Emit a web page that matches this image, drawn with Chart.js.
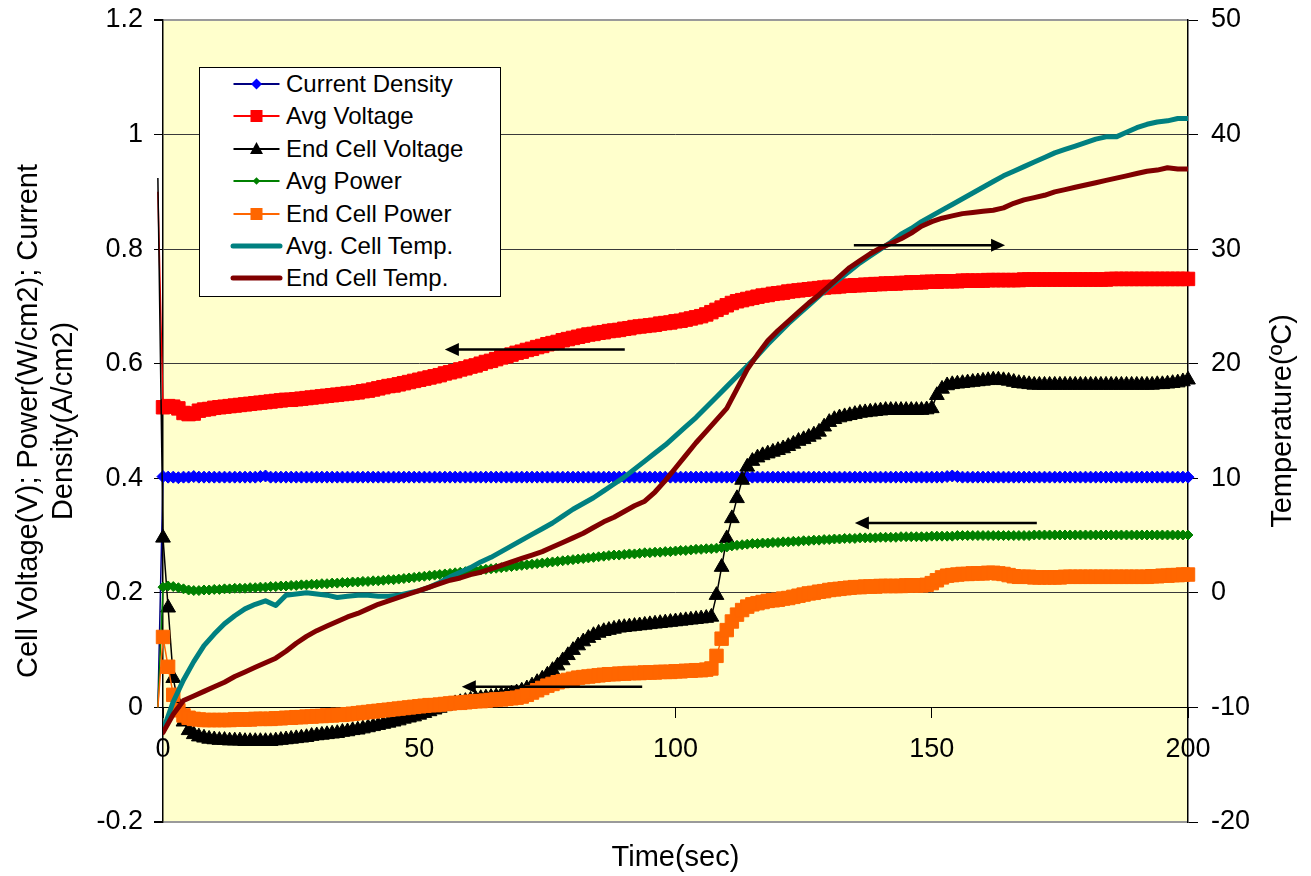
<!DOCTYPE html>
<html><head><meta charset="utf-8">
<script src="https://cdn.jsdelivr.net/npm/chart.js@4.4.1/dist/chart.umd.min.js"></script>
<style>
html,body{margin:0;padding:0;background:#fff;}
#wrap{position:relative;width:1311px;height:876px;}
#legend{position:absolute;left:199px;top:67px;width:302px;height:230px;box-sizing:border-box;background:#fff;border:1.5px solid #000;font-family:"Liberation Sans",Arial,sans-serif;font-size:24px;color:#000;}
.row{position:absolute;left:0;height:32px;width:100%;}
.row svg{position:absolute;left:30px;top:0;}
.row span{position:absolute;left:86px;top:0;line-height:32px;white-space:nowrap;}
</style></head>
<body><div id="wrap"><canvas id="c" width="1311" height="876"></canvas><div id="legend"></div></div>
<script>
// ---- categories / x values ----
const timeSec = [-1,
0,1,2,3,4,5,6,7,8,9,10,11,12,13,14,15,16,17,18,19,20,21,22,23,24,25,26,27,28,29,
30,31,32,33,34,35,36,37,38,39,40,41,42,43,44,45,46,47,48,49,50,51,52,53,54,55,56,57,58,59,
60,61,62,63,64,65,66,67,68,69,70,71,72,73,74,75,76,77,78,79,80,81,82,83,84,85,86,87,88,89,
90,91,92,93,94,95,96,97,98,99,100,101,102,103,104,105,106,107,108,109,110,111,112,113,114,115,116,117,118,119,
120,121,122,123,124,125,126,127,128,129,130,131,132,133,134,135,136,137,138,139,140,141,142,143,144,145,146,147,148,149,
150,151,152,153,154,155,156,157,158,159,160,161,162,163,164,165,166,167,168,169,170,171,172,173,174,175,176,177,178,179,
180,181,182,183,184,185,186,187,188,189,190,191,192,193,194,195,196,197,198,199,200];

const tempTimeSec = [0,2,4,6,8,10,12,14,16,18,20,22,24,26,28,30,32,34,36,38,40,42,44,46,48,50,52,54,56,58,
60,62,64,66,68,70,72,74,76,78,80,82,84,86,88,90,92,94,96,98,100,102,104,106,108,110,112,114,116,118,
120,122,124,126,128,130,132,134,136,138,140,142,144,146,148,150,152,154,156,158,160,162,164,166,168,170,172,174,176,178,
180,182,184,186,188,190,192,194,196,198,200];

// ---- series values ----
const currentDensity = [0,
0.403,0.402,0.402,0.401,0.402,0.402,0.403,0.402,0.402,0.402,
0.402,0.402,0.402,0.402,0.402,0.402,0.402,0.402,0.402,0.403,
0.404,0.402,0.402,0.402,0.402,0.402,0.402,0.402,0.402,0.402,
0.402,0.402,0.402,0.402,0.402,0.402,0.402,0.402,0.402,0.402,
0.402,0.402,0.402,0.402,0.402,0.402,0.402,0.402,0.402,0.402,
0.402,0.402,0.402,0.402,0.402,0.402,0.402,0.402,0.402,0.402,
0.402,0.402,0.402,0.402,0.402,0.402,0.402,0.402,0.402,0.402,
0.402,0.402,0.402,0.402,0.402,0.402,0.402,0.402,0.402,0.402,
0.402,0.402,0.402,0.402,0.402,0.402,0.402,0.402,0.402,0.402,
0.402,0.402,0.402,0.402,0.402,0.402,0.402,0.402,0.402,0.402,
0.402,0.402,0.402,0.402,0.402,0.402,0.402,0.402,0.402,0.402,
0.402,0.402,0.402,0.402,0.402,0.402,0.402,0.402,0.402,0.402,
0.402,0.402,0.402,0.402,0.402,0.402,0.402,0.402,0.402,0.402,
0.402,0.402,0.402,0.402,0.402,0.402,0.402,0.402,0.402,0.402,
0.402,0.402,0.402,0.402,0.402,0.402,0.402,0.402,0.402,0.402,
0.402,0.402,0.402,0.403,0.404,0.403,0.402,0.402,0.402,0.402,
0.402,0.402,0.402,0.402,0.402,0.402,0.402,0.402,0.402,0.402,
0.402,0.402,0.402,0.402,0.402,0.402,0.402,0.402,0.402,0.402,
0.402,0.402,0.402,0.402,0.402,0.402,0.402,0.402,0.402,0.402,
0.402,0.402,0.402,0.402,0.402,0.402,0.402,0.402,0.402,0.402,0.402];

const avgVoltage = [0.90,
0.524,0.526,0.525,0.522,0.514,0.512,0.513,0.518,0.520,0.521,
0.523,0.524,0.525,0.526,0.527,0.528,0.529,0.530,0.531,0.532,
0.533,0.534,0.535,0.536,0.537,0.537,0.538,0.539,0.540,0.541,
0.542,0.543,0.544,0.545,0.546,0.547,0.548,0.549,0.550,0.552,
0.553,0.555,0.557,0.559,0.561,0.562,0.564,0.566,0.568,0.570,
0.572,0.574,0.576,0.578,0.580,0.583,0.585,0.587,0.590,0.592,
0.595,0.597,0.600,0.603,0.605,0.608,0.611,0.613,0.616,0.619,
0.621,0.624,0.626,0.629,0.631,0.634,0.636,0.638,0.641,0.643,
0.645,0.647,0.649,0.651,0.652,0.654,0.655,0.657,0.658,0.659,
0.661,0.662,0.664,0.665,0.666,0.667,0.668,0.670,0.671,0.672,
0.674,0.675,0.677,0.679,0.681,0.683,0.686,0.690,0.694,0.698,
0.702,0.706,0.709,0.711,0.713,0.715,0.717,0.719,0.720,0.722,
0.723,0.724,0.726,0.727,0.728,0.729,0.730,0.731,0.732,0.733,
0.734,0.734,0.735,0.736,0.736,0.737,0.737,0.738,0.738,0.739,
0.739,0.740,0.740,0.740,0.741,0.741,0.742,0.742,0.742,0.743,
0.743,0.743,0.744,0.744,0.744,0.744,0.745,0.745,0.745,0.745,
0.745,0.746,0.746,0.746,0.746,0.746,0.746,0.746,0.747,0.747,
0.747,0.747,0.747,0.747,0.747,0.747,0.747,0.747,0.747,0.747,
0.747,0.747,0.747,0.747,0.747,0.748,0.748,0.748,0.748,0.748,
0.748,0.748,0.748,0.748,0.748,0.748,0.748,0.748,0.748,0.748,0.748];

const endCellVoltage = [0.924,
0.296,0.174,0.051,0.005,-0.025,-0.040,-0.047,-0.051,-0.053,-0.055,
-0.056,-0.057,-0.057,-0.058,-0.058,-0.058,-0.059,-0.059,-0.059,-0.059,
-0.059,-0.059,-0.058,-0.057,-0.056,-0.055,-0.054,-0.053,-0.052,-0.050,
-0.049,-0.048,-0.047,-0.046,-0.045,-0.043,-0.042,-0.040,-0.039,-0.037,
-0.035,-0.033,-0.031,-0.029,-0.027,-0.025,-0.023,-0.020,-0.018,-0.016,
-0.013,-0.010,-0.007,-0.004,-0.001,0.002,0.005,0.007,0.009,0.011,
0.013,0.015,0.016,0.017,0.018,0.019,0.021,0.022,0.024,0.026,
0.029,0.033,0.038,0.044,0.050,0.057,0.065,0.073,0.082,0.091,
0.100,0.108,0.115,0.121,0.126,0.130,0.133,0.135,0.137,0.139,
0.140,0.141,0.142,0.143,0.144,0.145,0.146,0.147,0.148,0.149,
0.150,0.151,0.152,0.153,0.154,0.155,0.156,0.158,0.196,0.245,
0.295,0.330,0.365,0.397,0.420,0.430,0.436,0.440,0.443,0.446,
0.449,0.452,0.456,0.460,0.465,0.468,0.472,0.476,0.481,0.490,
0.498,0.503,0.506,0.508,0.510,0.512,0.514,0.515,0.516,0.517,
0.518,0.519,0.519,0.519,0.519,0.519,0.519,0.519,0.519,0.520,
0.522,0.545,0.556,0.562,0.564,0.565,0.566,0.567,0.568,0.569,
0.570,0.571,0.572,0.572,0.571,0.570,0.568,0.566,0.565,0.564,
0.563,0.563,0.563,0.563,0.563,0.563,0.563,0.563,0.563,0.563,
0.563,0.563,0.563,0.563,0.563,0.563,0.563,0.563,0.563,0.563,
0.563,0.563,0.563,0.563,0.564,0.564,0.565,0.566,0.567,0.569,0.572];

const avgPower = [0,
0.210,0.212,0.211,0.209,0.207,0.205,0.204,0.204,0.205,0.205,
0.206,0.206,0.207,0.207,0.208,0.208,0.208,0.209,0.209,0.210,
0.210,0.211,0.211,0.212,0.212,0.213,0.213,0.214,0.214,0.215,
0.215,0.216,0.216,0.217,0.217,0.218,0.218,0.219,0.219,0.220,
0.220,0.221,0.221,0.222,0.223,0.223,0.224,0.225,0.226,0.227,
0.228,0.229,0.230,0.231,0.232,0.233,0.234,0.235,0.236,0.237,
0.238,0.239,0.240,0.241,0.242,0.243,0.244,0.245,0.246,0.247,
0.248,0.249,0.250,0.251,0.252,0.253,0.254,0.255,0.256,0.257,
0.258,0.259,0.260,0.261,0.262,0.263,0.264,0.265,0.266,0.266,
0.267,0.268,0.268,0.269,0.270,0.270,0.271,0.271,0.272,0.272,
0.273,0.274,0.274,0.275,0.276,0.276,0.277,0.277,0.278,0.279,
0.280,0.282,0.283,0.284,0.285,0.286,0.286,0.287,0.287,0.288,
0.288,0.289,0.289,0.290,0.290,0.291,0.291,0.292,0.292,0.293,
0.293,0.294,0.294,0.295,0.295,0.295,0.296,0.296,0.296,0.296,
0.297,0.297,0.297,0.297,0.298,0.298,0.298,0.298,0.298,0.298,
0.299,0.299,0.299,0.299,0.299,0.300,0.300,0.300,0.300,0.300,
0.300,0.300,0.300,0.300,0.300,0.300,0.300,0.300,0.300,0.300,
0.301,0.301,0.301,0.301,0.301,0.301,0.301,0.301,0.301,0.301,
0.301,0.301,0.301,0.301,0.301,0.301,0.301,0.301,0.301,0.301,
0.301,0.301,0.301,0.301,0.301,0.301,0.301,0.301,0.301,0.301,0.301];

const endCellPower = [0,
0.123,0.071,0.022,-0.005,-0.014,-0.018,-0.020,-0.021,-0.022,-0.022,
-0.022,-0.022,-0.022,-0.022,-0.021,-0.021,-0.021,-0.021,-0.020,-0.020,
-0.020,-0.020,-0.019,-0.019,-0.018,-0.018,-0.017,-0.017,-0.016,-0.016,
-0.015,-0.015,-0.014,-0.014,-0.013,-0.013,-0.012,-0.011,-0.010,-0.009,
-0.008,-0.007,-0.006,-0.005,-0.004,-0.003,-0.002,-0.001,0.000,0.001,
0.002,0.003,0.004,0.004,0.005,0.006,0.007,0.008,0.008,0.009,
0.010,0.011,0.011,0.012,0.013,0.014,0.014,0.015,0.016,0.017,
0.019,0.022,0.026,0.030,0.034,0.038,0.041,0.044,0.046,0.048,
0.050,0.052,0.053,0.054,0.055,0.056,0.057,0.058,0.058,0.059,
0.059,0.060,0.060,0.060,0.061,0.061,0.061,0.062,0.062,0.062,
0.063,0.063,0.064,0.064,0.065,0.065,0.066,0.068,0.090,0.120,
0.135,0.150,0.162,0.170,0.176,0.180,0.182,0.184,0.186,0.187,
0.188,0.190,0.191,0.193,0.195,0.197,0.199,0.200,0.202,0.203,
0.205,0.206,0.207,0.208,0.209,0.210,0.210,0.211,0.211,0.211,
0.212,0.212,0.212,0.212,0.212,0.213,0.213,0.213,0.213,0.214,
0.217,0.222,0.227,0.230,0.231,0.232,0.233,0.233,0.234,0.234,
0.234,0.235,0.235,0.234,0.233,0.231,0.229,0.228,0.228,0.228,
0.227,0.227,0.227,0.227,0.227,0.227,0.228,0.228,0.228,0.228,
0.228,0.228,0.228,0.228,0.228,0.228,0.228,0.228,0.228,0.228,
0.228,0.228,0.228,0.229,0.229,0.230,0.230,0.231,0.231,0.232,0.232];

const avgCellTemp = [
-12.0,-9.5,-7.6,-6.0,-4.6,-3.6,-2.7,-2.0,-1.4,-1.0,
-0.7,-1.1,-0.2,-0.1,0.0,-0.1,-0.2,-0.4,-0.3,-0.2,
-0.2,-0.3,-0.3,-0.2,0.0,0.2,0.5,0.9,1.4,1.8,
2.2,2.7,3.1,3.6,4.1,4.6,5.1,5.6,6.1,6.7,
7.3,7.8,8.3,8.9,9.5,10.1,10.8,11.5,12.2,12.9,
13.7,14.5,15.3,16.2,17.1,18.0,18.9,19.8,20.7,21.7,
22.6,23.5,24.3,25.1,25.9,26.7,27.4,28.1,28.8,29.4,
30.0,30.6,31.3,31.8,32.4,32.9,33.4,33.9,34.4,34.9,
35.4,35.9,36.4,36.8,37.2,37.6,38.0,38.4,38.7,39.0,
39.3,39.6,39.8,39.8,40.2,40.6,40.9,41.1,41.2,41.4,
41.4];

const endCellTemp = [
-12.2,-10.6,-9.4,-9.0,-8.6,-8.2,-7.8,-7.3,-6.9,-6.5,
-6.1,-5.7,-5.1,-4.4,-3.8,-3.3,-2.9,-2.5,-2.1,-1.8,
-1.4,-1.0,-0.7,-0.4,-0.1,0.2,0.5,0.8,1.1,1.3,
1.6,1.8,2.1,2.4,2.7,3.0,3.3,3.6,4.0,4.4,
4.8,5.2,5.7,6.2,6.6,7.1,7.6,8.0,8.8,9.8,
10.9,12.0,13.1,14.1,15.1,16.1,17.8,19.5,20.8,22.0,
22.9,23.7,24.5,25.3,26.0,26.8,27.6,28.4,29.0,29.6,
30.1,30.5,30.9,31.4,32.0,32.4,32.7,32.9,33.1,33.2,
33.3,33.4,33.6,34.0,34.3,34.5,34.7,35.0,35.2,35.4,
35.6,35.8,36.0,36.2,36.4,36.6,36.8,36.9,37.1,37.0,
37.0];

// ---- tick labels ----
const leftTicks = [-0.2,0,0.2,0.4,0.6,0.8,1,1.2];
const leftTickLabels = ['-0.2','0','0.2','0.4','0.6','0.8','1','1.2'];
const rightTicks = [-20,-10,0,10,20,30,40,50];
const rightTickLabels = ['-20','-10','0','10','20','30','40','50'];
const timeTicks = [0,50,100,150,200];
const timeTickLabels = ['0','50','100','150','200'];

// ---- texts ----
const seriesLabels = ['Current Density','Avg Voltage','End Cell Voltage','Avg Power','End Cell Power','Avg. Cell Temp.','End Cell Temp.'];
const xTitle = 'Time(sec)';
const yLeftTitle = ['Cell Voltage(V); Power(W/cm2); Current', 'Density(A/cm2)'];
const yRightTitle = 'Temperature(\u00BAC)';

// ---- annotation arrows (data units: time from -> to, at left-axis level) ----
const arrowFrom = [90.1, 134.8, 170.5, 93.5];
const arrowTo   = [55.0, 164.3, 135.0, 58.3];
const arrowLevel = [0.625, 0.807, 0.322, 0.036];

const FONT = '"Liberation Sans", Arial, sans-serif';
Chart.defaults.font.family = FONT;
Chart.defaults.color = '#000';

function pts(xs, ys) { return xs.map((x, i) => ({x: x, y: ys[i]})); }
function hideNeg(r) { return ctx => (ctx.raw && ctx.raw.x < 0) ? 0 : r; }

const markerSeries = [
  {label: seriesLabels[0], ys: currentDensity, line: '#000080', fill: '#0000FF', style: 'rectRot', r: 6},
  {label: seriesLabels[1], ys: avgVoltage, line: '#FF0000', fill: '#FF0000', style: 'rect', r: 9.5},
  {label: seriesLabels[2], ys: endCellVoltage, line: '#000000', fill: '#000000', style: 'triangle', r: 8.5},
  {label: seriesLabels[3], ys: avgPower, line: '#008000', fill: '#008000', style: 'rectRot', r: 5},
  {label: seriesLabels[4], ys: endCellPower, line: '#FF6600', fill: '#FF6600', style: 'rect', r: 9.5}
];

const datasets = markerSeries.map((s, i) => ({
  label: s.label,
  data: pts(timeSec, s.ys),
  xAxisID: 'x', yAxisID: 'y',
  borderColor: s.line, backgroundColor: s.fill,
  borderWidth: 1.5,
  pointStyle: s.style,
  pointRadius: hideNeg(s.r),
  pointBorderWidth: 1,
  pointBackgroundColor: s.fill, pointBorderColor: s.fill,
  clip: false,
  order: 10 - i
}));
datasets.push({
  label: seriesLabels[5], data: pts(tempTimeSec, avgCellTemp), xAxisID: 'x', yAxisID: 'y2',
  borderColor: '#008080', backgroundColor: '#008080', borderWidth: 5, pointRadius: 0,
  borderJoinStyle: 'round', borderCapStyle: 'round', order: 2
});
datasets.push({
  label: seriesLabels[6], data: pts(tempTimeSec, endCellTemp), xAxisID: 'x', yAxisID: 'y2',
  borderColor: '#800000', backgroundColor: '#800000', borderWidth: 5, pointRadius: 0,
  borderJoinStyle: 'round', borderCapStyle: 'round', order: 1
});

const plotBg = {
  id: 'plotBg',
  beforeDraw(chart) {
    const {ctx, chartArea: a} = chart;
    ctx.save(); ctx.fillStyle = '#FFFFCC';
    ctx.fillRect(a.left, a.top, a.right - a.left, a.bottom - a.top);
    ctx.restore();
  }
};

const arrowPlugin = {
  id: 'arrows',
  afterDatasetsDraw(chart) {
    const xs = chart.scales.x, ys = chart.scales.y, ctx = chart.ctx;
    arrowFrom.forEach((f, i) => {
      const x1 = xs.getPixelForValue(f), x2 = xs.getPixelForValue(arrowTo[i]), y = ys.getPixelForValue(arrowLevel[i]);
      const d = Math.sign(x2 - x1);
      ctx.save();
      ctx.strokeStyle = '#000'; ctx.fillStyle = '#000'; ctx.lineWidth = 2.5;
      ctx.beginPath(); ctx.moveTo(x1, y); ctx.lineTo(x2 - d * 10, y); ctx.stroke();
      ctx.beginPath(); ctx.moveTo(x2, y); ctx.lineTo(x2 - d * 14, y - 6.5); ctx.lineTo(x2 - d * 14, y + 6.5); ctx.closePath(); ctx.fill();
      ctx.restore();
    });
  }
};

const rightTitlePlugin = {
  id: 'rightTitle',
  afterDraw(chart) {
    const s = chart.scales.y2, ctx = chart.ctx;
    ctx.save();
    ctx.translate(s.right - 28, (s.top + s.bottom) / 2);
    ctx.rotate(-Math.PI / 2);
    ctx.textAlign = 'center'; ctx.textBaseline = 'middle';
    ctx.fillStyle = '#000';
    ctx.font = '29px ' + FONT;
    ctx.fillText(yRightTitle, 0, 0);
    ctx.restore();
  }
};

const edgeTick = v => v === leftTicks[0] || v === leftTicks[leftTicks.length - 1];

const chart = new Chart(document.getElementById('c'), {
  type: 'line',
  data: {datasets},
  plugins: [plotBg, arrowPlugin, rightTitlePlugin],
  options: {
    responsive: false, animation: false,
    layout: {padding: {top: 20, left: 0, right: 0, bottom: 0}},
    elements: {line: {tension: 0}},
    plugins: {legend: {display: false}, tooltip: {enabled: false}},
    scales: {
      x: {
        type: 'linear', min: 0, max: 200, position: {y: 0},
        afterBuildTicks: s => { s.ticks = timeTicks.map(v => ({value: v})); },
        ticks: {callback: (v, i) => timeTickLabels[i], font: {size: 27}, color: '#000', padding: 16, autoSkip: false, maxRotation: 0},
        grid: {drawOnChartArea: false, drawTicks: true, tickLength: 10, color: '#000'},
        border: {display: true, color: '#000', width: 1}
      },
      xt: {
        type: 'linear', axis: 'x', position: 'bottom', min: 0, max: 200,
        ticks: {display: false}, grid: {display: false}, border: {display: false},
        title: {display: true, text: xTitle, font: {size: 29}, color: '#000', padding: {top: 0, bottom: 1}},
        afterFit: s => { s.height = 54; s.paddingLeft = 0; s.paddingRight = 0; }
      },
      y: {
        type: 'linear', position: 'left', min: -0.2, max: 1.2,
        afterBuildTicks: s => { s.ticks = leftTicks.map(v => ({value: v})); },
        ticks: {callback: (v, i) => leftTickLabels[i], font: {size: 27}, color: '#000', padding: 11, autoSkip: false},
        grid: {
          color: c => (c.tick && edgeTick(c.tick.value)) ? '#9a9a9a' : '#3a3a3a',
          lineWidth: c => (c.tick && edgeTick(c.tick.value)) ? 2 : 1,
          tickColor: '#000', tickLength: 9
        },
        border: {display: true, color: '#000', width: 1.5},
        title: {display: true, text: yLeftTitle, font: {size: 29}, color: '#000', padding: {top: 12, bottom: 0}},
        afterFit: s => { s.width = 163; s.paddingTop = 0; s.paddingBottom = 0; }
      },
      y2: {
        type: 'linear', position: 'right', min: -20, max: 50,
        afterBuildTicks: s => { s.ticks = rightTicks.map(v => ({value: v})); },
        ticks: {callback: (v, i) => rightTickLabels[i], font: {size: 27}, color: '#000', padding: 13, autoSkip: false},
        grid: {drawOnChartArea: false, tickLength: 10, color: '#000'},
        border: {display: true, color: '#000', width: 1.5},
        afterFit: s => { s.width = 123; s.paddingTop = 0; s.paddingBottom = 0; }
      }
    }
  }
});

// ---- HTML legend built from the chart's datasets ----
(function buildLegend() {
  const box = document.getElementById('legend');
  const NS = 'http://www.w3.org/2000/svg';
  const legendMarkerSize = [5.5, 6, 7, 3.8, 6];
  chart.data.datasets.forEach((ds, i) => {
    const row = document.createElement('div');
    row.className = 'row';
    row.style.top = (0 + 32.4 * i) + 'px';
    const svg = document.createElementNS(NS, 'svg');
    svg.setAttribute('width', '56'); svg.setAttribute('height', '32');
    const cx = 26.5, cy = 16;
    const ln = document.createElementNS(NS, 'line');
    const thick = ds.pointRadius === 0;
    ln.setAttribute('x1', thick ? 3 : 3.5); ln.setAttribute('x2', thick ? 50 : 49.5);
    ln.setAttribute('y1', cy); ln.setAttribute('y2', cy);
    ln.setAttribute('stroke', ds.borderColor);
    ln.setAttribute('stroke-width', thick ? 5 : 2);
    if (thick) ln.setAttribute('stroke-linecap', 'round');
    svg.appendChild(ln);
    if (!thick) {
      const st = ds.pointStyle, h = legendMarkerSize[i];
      let m;
      if (st === 'rect') {
        m = document.createElementNS(NS, 'rect');
        m.setAttribute('x', cx - h); m.setAttribute('y', cy - h);
        m.setAttribute('width', 2 * h); m.setAttribute('height', 2 * h);
      } else {
        m = document.createElementNS(NS, 'polygon');
        let p;
        if (st === 'rectRot') { p = [[cx, cy - h], [cx + h, cy], [cx, cy + h], [cx - h, cy]]; }
        else { p = [[cx, cy - h], [cx + 6.5, cy + 5], [cx - 6.5, cy + 5]]; }
        m.setAttribute('points', p.map(q => q.join(',')).join(' '));
      }
      m.setAttribute('fill', ds.pointBackgroundColor);
      svg.appendChild(m);
    }
    row.appendChild(svg);
    const sp = document.createElement('span');
    sp.textContent = ds.label;
    row.appendChild(sp);
    box.appendChild(row);
  });
})();
</script></body></html>
